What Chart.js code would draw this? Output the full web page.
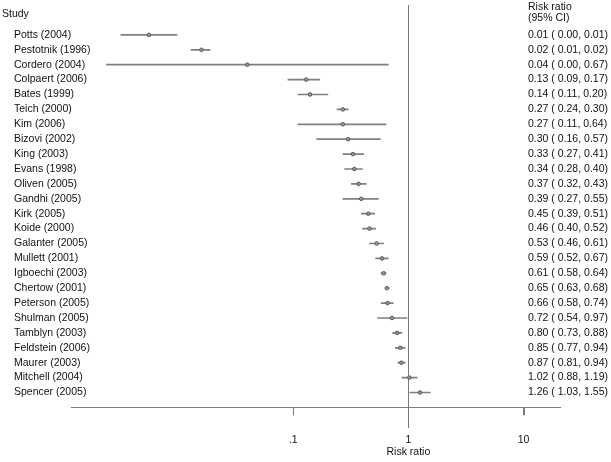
<!DOCTYPE html>
<html>
<head>
<meta charset="utf-8">
<script src="https://cdn.jsdelivr.net/npm/chart.js@4"></script>
<style>
  html, body { margin: 0; padding: 0; background: #fff; }
  canvas { display: block; }
</style>
</head>
<body>
<canvas id="c" width="611" height="462"></canvas>
<script>
// ---- data ----
const studies = ["Potts (2004)", "Pestotnik (1996)", "Cordero (2004)", "Colpaert (2006)", "Bates (1999)",
  "Teich (2000)", "Kim (2006)", "Bizovi (2002)", "King (2003)", "Evans (1998)", "Oliven (2005)",
  "Gandhi (2005)", "Kirk (2005)", "Koide (2000)", "Galanter (2005)", "Mullett (2001)", "Igboechi (2003)",
  "Chertow (2001)", "Peterson (2005)", "Shulman (2005)", "Tamblyn (2003)", "Feldstein (2006)",
  "Maurer (2003)", "Mitchell (2004)", "Spencer (2005)"];
const riskRatio = [0.0056, 0.016, 0.040, 0.13, 0.14, 0.27, 0.27, 0.30, 0.33, 0.34, 0.37, 0.39, 0.45, 0.46,
  0.53, 0.59, 0.61, 0.65, 0.66, 0.72, 0.80, 0.85, 0.87, 1.02, 1.26];
const ciLower = [0.0032, 0.013, 0.0024, 0.09, 0.11, 0.24, 0.11, 0.16, 0.27, 0.28, 0.32, 0.27, 0.39, 0.40,
  0.46, 0.52, 0.58, 0.63, 0.58, 0.54, 0.73, 0.77, 0.81, 0.88, 1.03];
const ciUpper = [0.0098, 0.019, 0.67, 0.17, 0.20, 0.30, 0.64, 0.57, 0.41, 0.40, 0.43, 0.55, 0.51, 0.52,
  0.61, 0.67, 0.64, 0.68, 0.74, 0.97, 0.88, 0.94, 0.94, 1.19, 1.55];
const ciLabels = ["0.01 ( 0.00, 0.01)", "0.02 ( 0.01, 0.02)", "0.04 ( 0.00, 0.67)", "0.13 ( 0.09, 0.17)",
  "0.14 ( 0.11, 0.20)", "0.27 ( 0.24, 0.30)", "0.27 ( 0.11, 0.64)", "0.30 ( 0.16, 0.57)",
  "0.33 ( 0.27, 0.41)", "0.34 ( 0.28, 0.40)", "0.37 ( 0.32, 0.43)", "0.39 ( 0.27, 0.55)",
  "0.45 ( 0.39, 0.51)", "0.46 ( 0.40, 0.52)", "0.53 ( 0.46, 0.61)", "0.59 ( 0.52, 0.67)",
  "0.61 ( 0.58, 0.64)", "0.65 ( 0.63, 0.68)", "0.66 ( 0.58, 0.74)", "0.72 ( 0.54, 0.97)",
  "0.80 ( 0.73, 0.88)", "0.85 ( 0.77, 0.94)", "0.87 ( 0.81, 0.94)", "1.02 ( 0.88, 1.19)",
  "1.26 ( 1.03, 1.55)"];
const tickValues = [0.1, 1, 10];
const tickLabels = [".1", "1", "10"];
const nullValue = 1;
const xTitle = "Risk ratio";

const FONT = '"Liberation Sans", Arial, sans-serif';
const FS = 10.5;
const GREY = '#7a7a7a';

const textPlugin = {
  id: 'forestText',
  afterDraw(chart) {
    const ctx = chart.ctx;
    const ys = chart.scales.y, xs = chart.scales.x;
    const area = chart.chartArea;
    ctx.save();
    ctx.fillStyle = GREY;
    // null line
    const x1 = Math.round(xs.getPixelForValue(nullValue));
    ctx.fillRect(x1, 5, 1, 423);
    // tick marks below the axis line
    const yb = Math.round(area.bottom);
    tickValues.forEach(v => {
      const tx = Math.round(xs.getPixelForValue(v));
      ctx.fillRect(tx, yb, 1, 8);
    });
    // texts
    ctx.fillStyle = '#111';
    ctx.font = FS + 'px ' + FONT;
    ctx.textBaseline = 'middle';
    ctx.textAlign = 'left';
    ctx.fillText('Study', 2, 14);
    ctx.fillText('Risk ratio', 528, 7);
    ctx.fillText('(95% CI)', 528, 18);
    studies.forEach((s, i) => {
      const y = ys.getPixelForValue(i);
      ctx.fillText(s, 14, y);
      ctx.fillText(ciLabels[i], 528, y);
    });
    // axis title centred under the null value
    ctx.textAlign = 'center';
    ctx.fillText(xTitle, xs.getPixelForValue(nullValue), 452);
    ctx.restore();
  }
};

new Chart(document.getElementById('c'), {
  type: 'bar',
  data: {
    datasets: [
      {
        type: 'bar',
        data: studies.map((s, i) => ({ y: i, x: [ciLower[i], ciUpper[i]] })),
        backgroundColor: '#7f7f7f',
        borderWidth: 0,
        barThickness: 1,
        order: 2
      },
      {
        type: 'scatter',
        data: studies.map((s, i) => ({ y: i, x: riskRatio[i] })),
        pointRadius: 1.8,
        pointBackgroundColor: '#9a9a9a',
        pointBorderColor: '#555',
        pointBorderWidth: 1,
        order: 1
      }
    ]
  },
  options: {
    indexAxis: 'y',
    responsive: false,
    animation: false,
    devicePixelRatio: 1,
    layout: { padding: { left: 71, right: 51, top: 20, bottom: -2 } },
    plugins: { legend: { display: false }, tooltip: { enabled: false } },
    scales: {
      y: {
        type: 'linear',
        reverse: true,
        offset: false,
        min: -1,
        max: 25,
        display: false
      },
      x: {
        type: 'logarithmic',
        position: 'bottom',
        min: 0.00118,
        max: 20.7,
        afterBuildTicks(axis) { axis.ticks = tickValues.map(v => ({ value: v })); },
        ticks: {
          autoSkip: false,
          maxRotation: 0,
          padding: 18,
          color: '#111',
          font: { family: FONT, size: FS },
          callback(v) { const k = tickValues.indexOf(v); return k >= 0 ? tickLabels[k] : ''; }
        },
        grid: { display: true, drawOnChartArea: false, drawTicks: true, tickLength: 8, tickColor: GREY, color: GREY },
        border: { display: true, color: GREY, width: 1 },
        title: { display: false }
      }
    }
  },
  plugins: [textPlugin]
});
</script>
</body>
</html>
